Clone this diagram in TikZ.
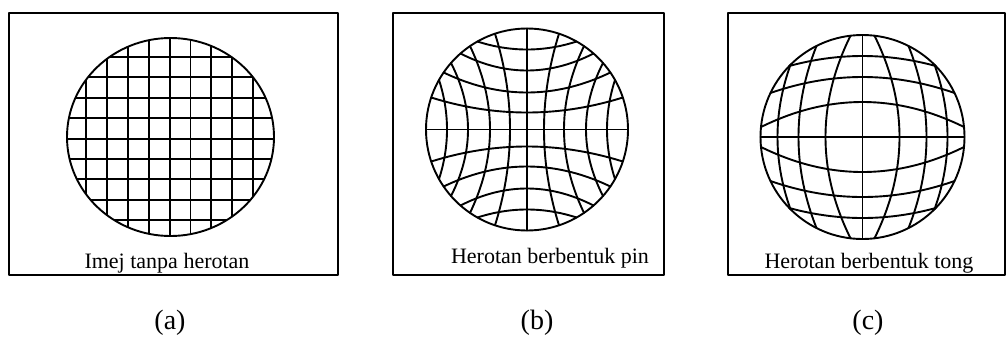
\documentclass[tikz,border=0pt]{standalone}
\usepackage{fontspec}
\setmainfont{Liberation Serif}
\begin{document}
\begin{tikzpicture}[x=1pt,y=-1pt,line cap=round,line join=round]
\tikzset{
  frame/.style={draw=black,line width=1.9pt},
  gridline/.style={draw=black,line width=1.9pt},
  lens/.style={draw=black,line width=1.9pt},
  inlabel/.style={font=\fontsize{22}{24}\selectfont,inner sep=0pt,anchor=base},
  sublabel/.style={font=\fontsize{28}{32}\selectfont,inner sep=0pt}
}
\useasboundingbox (0,0) rectangle (1006,349);

% ---------- (a) no distortion ----------
\draw[frame] (9,13) rectangle (338,275);
\begin{scope}
  \clip (170.5,137) ellipse [x radius=103.5, y radius=99];
  \foreach \i in {0,...,8} {
    \draw[gridline] ({86+20.9*\i},30) -- ++(0,215);
    \draw[gridline] (60,{57+20.4*\i}) -- ++(225,0);
  }
\end{scope}
\draw[lens] (170.5,137) ellipse [x radius=103.5, y radius=99];
\node[inlabel] (ta) at (167,268) {Imej tanpa herotan};
\node[sublabel] (la) at (170,323) {(a)};

% ---------- (b) pincushion ----------
\draw[frame] (393,13) rectangle (664,275);
\begin{scope}[shift={(527,129.5)}]
  \draw[gridline] (0,-101) -- (0,101);
  \draw[gridline] (-101,0) -- (101,0);
  \foreach \m/\e in {17/32, 37/57, 59/76, 80/88} {
    \pgfmathsetmacro\ye{sqrt(101*101-\e*\e)}
    \draw[gridline] plot[domain=-\ye:\ye,samples=40,smooth] ({\m+(\e-\m)*(\x/\ye)*(\x/\ye)},\x);
    \draw[gridline] plot[domain=-\ye:\ye,samples=40,smooth] ({-\m-(\e-\m)*(\x/\ye)*(\x/\ye)},\x);
    \draw[gridline] plot[domain=-\ye:\ye,samples=40,smooth] (\x,{\m+(\e-\m)*(\x/\ye)*(\x/\ye)});
    \draw[gridline] plot[domain=-\ye:\ye,samples=40,smooth] (\x,{-\m-(\e-\m)*(\x/\ye)*(\x/\ye)});
  }
  \draw[lens] (0,0) circle [radius=101];
\end{scope}
\node[inlabel] (tb) at (550,263) {Herotan berbentuk pin};
\node[sublabel] (lb) at (537,323) {(b)};

% ---------- (c) barrel ----------
\draw[frame] (728,13) rectangle (1005,275);
\begin{scope}[shift={(862.5,137)}]
  \draw[gridline] (0,-102) -- (0,102);
  \draw[gridline] (-102,0) -- (102,0);
  \foreach \m/\e in {37/12, 64/46, 85/72} {
    \pgfmathsetmacro\ye{sqrt(102*102-\e*\e)}
    \draw[gridline] plot[domain=-\ye:\ye,samples=40,smooth] ({\m+(\e-\m)*(\x/\ye)*(\x/\ye)},\x);
    \draw[gridline] plot[domain=-\ye:\ye,samples=40,smooth] ({-\m-(\e-\m)*(\x/\ye)*(\x/\ye)},\x);
  }
  \foreach \m/\e in {35/10, 60/44, 81/71} {
    \pgfmathsetmacro\ye{sqrt(102*102-\e*\e)}
    \draw[gridline] plot[domain=-\ye:\ye,samples=40,smooth] (\x,{\m+(\e-\m)*(\x/\ye)*(\x/\ye)});
    \draw[gridline] plot[domain=-\ye:\ye,samples=40,smooth] (\x,{-\m-(\e-\m)*(\x/\ye)*(\x/\ye)});
  }
  \draw[lens] (0,0) circle [radius=102];
\end{scope}
\node[inlabel] (tc) at (869,268) {Herotan berbentuk tong};
\node[sublabel] (lc) at (868,323) {(c)};
\end{tikzpicture}
\end{document}
